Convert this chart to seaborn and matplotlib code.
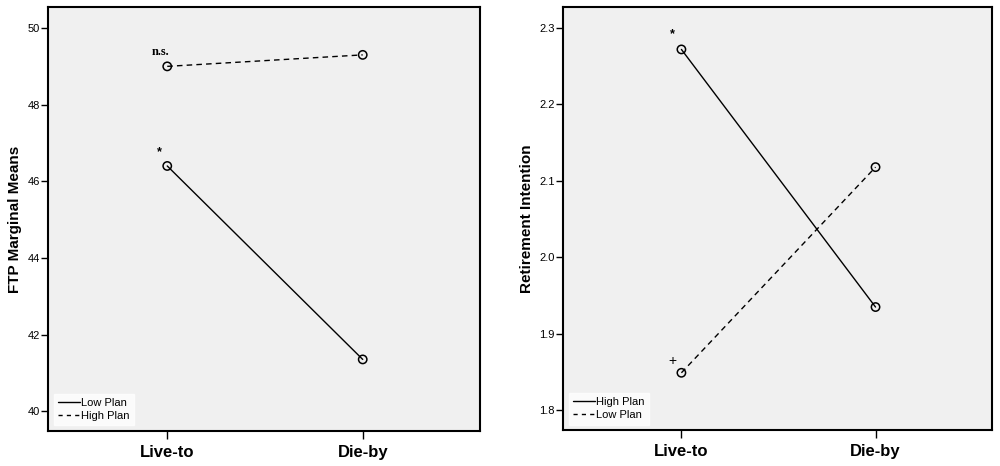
import pandas as pd
import matplotlib
matplotlib.use("Agg")
import matplotlib.pyplot as plt
import seaborn as sns
from matplotlib.lines import Line2D

# data
conditions = ["Live-to", "Die-by"]
ftp_low_plan = [46.4, 41.35]
ftp_high_plan = [49.0, 49.3]
ret_high_plan = [2.272, 1.935]
ret_low_plan = [1.849, 2.118]

sns.set_theme(style="white")
plt.rcParams["font.family"] = ["Liberation Sans", "DejaVu Sans"]
plt.rcParams["text.color"] = "black"
plt.rcParams["axes.labelcolor"] = "black"
plt.rcParams["xtick.color"] = "black"
plt.rcParams["ytick.color"] = "black"

fig = plt.figure(figsize=(10, 4.66), dpi=100)
ax1 = fig.add_axes([0.048, 0.075, 0.432, 0.91])
ax2 = fig.add_axes([0.563, 0.077, 0.429, 0.908])

df1 = pd.DataFrame({
    "cond": conditions * 2,
    "val": ftp_low_plan + ftp_high_plan,
    "plan": ["Low Plan"] * 2 + ["High Plan"] * 2,
})
df2 = pd.DataFrame({
    "cond": conditions * 2,
    "val": ret_high_plan + ret_low_plan,
    "plan": ["High Plan"] * 2 + ["Low Plan"] * 2,
})


def draw(ax, df, order, ylim, yticks, ylabel):
    ax.set_facecolor("#f0f0f0")
    dashes = {order[0]: "", order[1]: (4, 3)}
    sns.lineplot(data=df, x="cond", y="val", style="plan", style_order=order,
                 dashes=dashes, color="black", linewidth=1.0, ax=ax,
                 legend=False)
    sns.scatterplot(data=df, x="cond", y="val", marker="o", s=36,
                    facecolor="none", edgecolor="black", linewidth=1.1,
                    ax=ax, legend=False, zorder=3)
    ax.set_xlim(-0.61, 1.60)
    ax.set_ylim(*ylim)
    ax.set_yticks(yticks)
    ax.set_xticks([0, 1])
    ax.set_xticklabels(conditions, fontsize=12, fontweight="bold")
    ax.set_xlabel("")
    ax.set_ylabel(ylabel, fontsize=11, fontweight="bold", labelpad=4)
    ax.tick_params(axis="y", labelsize=8, length=5, width=1.0, direction="out",
                   left=True, pad=1)
    ax.tick_params(axis="x", length=6, width=1.0, direction="out",
                   bottom=True, pad=4)
    for sp in ax.spines.values():
        sp.set_color("black")
        sp.set_linewidth(1.5)
    handles = [Line2D([], [], color="black", lw=1.0),
               Line2D([], [], color="black", lw=1.0, dashes=(3, 3))]
    leg = ax.legend(handles, order, loc="lower left", fontsize=8,
                    frameon=True, fancybox=False, handlelength=2.0,
                    handletextpad=0.1, borderpad=0.4, labelspacing=0.25,
                    borderaxespad=0.5)
    leg.get_frame().set_facecolor("white")
    leg.get_frame().set_edgecolor("white")


draw(ax1, df1, ["Low Plan", "High Plan"], (39.48, 50.55), [40, 42, 44, 46, 48, 50],
     "FTP Marginal Means")
draw(ax2, df2, ["High Plan", "Low Plan"], (1.774, 2.3275), [1.8, 1.9, 2.0, 2.1, 2.2, 2.3],
     "Retirement Intention")
ax2.yaxis.set_major_formatter(matplotlib.ticker.FormatStrFormatter("%.1f"))

# significance marks
ax1.text(-0.037, 49.37, "n.s.", family=["Liberation Serif"], fontweight="bold",
         fontsize=9, ha="center", va="center")
ax1.text(-0.04, 46.75, "*", fontweight="bold", fontsize=9, ha="center", va="center")
ax2.text(-0.044, 2.292, "*", fontweight="bold", fontsize=9, ha="center", va="center")
ax2.text(-0.044, 1.865, "+", fontsize=10, ha="center", va="center")

fig.savefig("out.png", dpi=100)
